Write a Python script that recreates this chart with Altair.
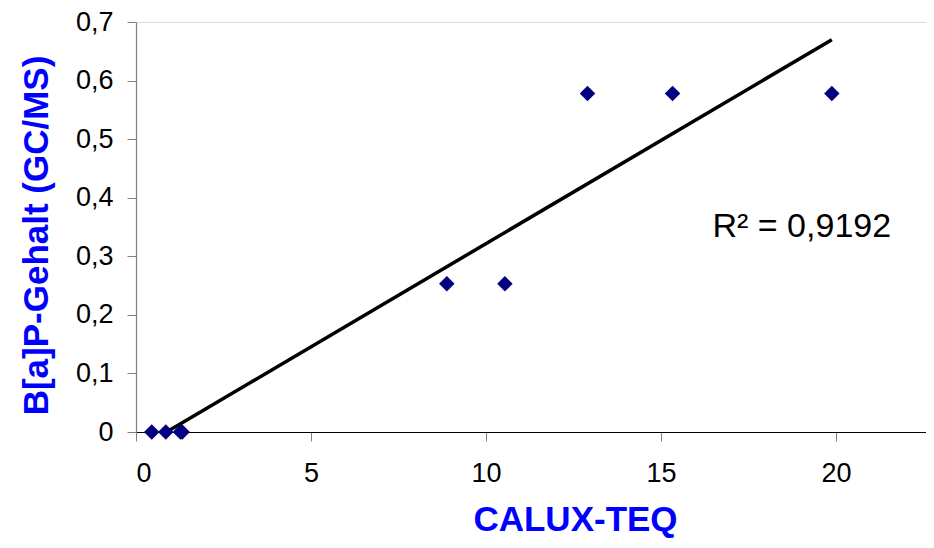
import altair as alt
import pandas as pd

calux_teq = [0.45, 0.85, 1.27, 1.32, 8.88, 10.54, 12.90, 15.33, 19.88]
bap_gehalt = [0.0, 0.0, 0.0, 0.0, 0.253, 0.253, 0.578, 0.578, 0.578]
r2_label = "R² = 0,9192"
x_ticks = [0, 5, 10, 15, 20]
y_ticks = [0, 0.1, 0.2, 0.3, 0.4, 0.5, 0.6, 0.7]

df = pd.DataFrame({"x": calux_teq, "y": bap_gehalt})
ann = pd.DataFrame({"x": [16.47], "y": [0.3326], "t": [r2_label]})

FONT = "Liberation Sans"

xscale = alt.Scale(domain=[0, 22.57], nice=False, zero=False)
yscale = alt.Scale(domain=[0, 0.7], nice=False)

xaxis = alt.Axis(
    values=x_ticks, grid=False, title="CALUX-TEQ",
    domainColor="#000000", domainWidth=1.2, tickColor="#808080", tickSize=9,
    labelFont=FONT, labelFontSize=27, labelColor="#000000", labelPadding=19,
    labelBaseline="top",
    titleFont=FONT, titleFontSize=35, titleFontWeight="bold", titleColor="#0000ff",
    titleX=439, titleY=98, titleAlign="center", titleBaseline="alphabetic",
)
yaxis = alt.Axis(
    values=y_ticks, grid=False, title="B[a]P-Gehalt (GC/MS)",
    labelExpr="datum.value == 0 ? '0' : replace(format(datum.value, '.1f'), '.', ',')",
    domainColor="#808080", domainWidth=1.2, tickColor="#808080", tickSize=9,
    labelFont=FONT, labelFontSize=27, labelColor="#000000", labelPadding=14,
    titleFont=FONT, titleFontSize=35, titleFontWeight="bold", titleColor="#0000ff",
    titleAngle=270, titleX=-100, titleY=213, titleAlign="center", titleBaseline="middle",
)

base = alt.Chart(df)

points = base.mark_point(shape="diamond", filled=True, size=240, color="#000080", opacity=1).encode(
    x=alt.X("x:Q", scale=xscale, axis=xaxis),
    y=alt.Y("y:Q", scale=yscale, axis=yaxis),
)

line = base.transform_regression("x", "y").mark_line(color="#000000", strokeWidth=3.5, clip=True).encode(
    x=alt.X("x:Q", scale=xscale),
    y=alt.Y("y:Q", scale=yscale),
)

text = alt.Chart(ann).mark_text(font=FONT, fontSize=34, align="left", baseline="alphabetic", color="#000000").encode(
    x=alt.X("x:Q", scale=xscale),
    y=alt.Y("y:Q", scale=yscale),
    text="t:N",
)

chart = alt.layer(line, points, text).properties(
    width=790, height=410,
    padding={"left": 128, "top": 14, "right": 0, "bottom": 106},
    autosize=alt.AutoSizeParams(type="none"),
).configure_view(stroke=None).configure(background="#ffffff")

chart.save("out.html", embed_options={"renderer": "svg", "actions": False})
